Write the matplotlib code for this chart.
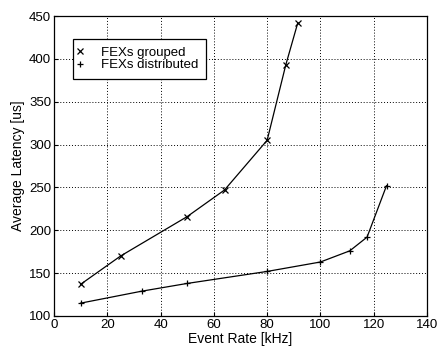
import matplotlib
matplotlib.use("Agg")
import matplotlib.pyplot as plt

# data
grouped_rate = [10, 25, 50, 64, 80, 87, 91.5]
grouped_latency = [137, 170, 216, 247, 305, 393, 442]

distributed_rate = [10, 33, 50, 80, 100, 111, 117.5, 124.8]
distributed_latency = [115, 129, 138, 152, 163, 176, 192, 252]

plt.rcParams['font.family'] = ['Liberation Sans', 'DejaVu Sans']

fig = plt.figure(figsize=(4.39, 3.46), dpi=100)
ax = fig.add_axes([54 / 439, 1 - 316 / 346, (427 - 54) / 439, (316 - 16) / 346])

ax.plot(grouped_rate, grouped_latency, color='k', lw=0.9, marker='x',
        ms=5, mew=0.9, label='FEXs grouped')
ax.plot(distributed_rate, distributed_latency, color='k', lw=0.9, marker='+',
        ms=5, mew=0.9, label='FEXs distributed')

ax.set_xlim(0, 140)
ax.set_ylim(100, 450)
ax.set_xticks(range(0, 141, 20))
ax.set_yticks(range(100, 451, 50))
ax.grid(True, color='k', linestyle=(0, (1, 2)), linewidth=0.7)
ax.tick_params(direction='in', labelsize=9.5, length=3, pad=2)
for s in ax.spines.values():
    s.set_linewidth(0.9)

ax.set_xlabel('Event Rate [kHz]', fontsize=10, labelpad=1)
ax.set_ylabel('Average Latency [us]', fontsize=10, labelpad=3)

leg = ax.legend(loc='upper left', bbox_to_anchor=(0.05, 0.923), fontsize=9.5,
                handlelength=0, handletextpad=1.6, frameon=True, fancybox=False,
                edgecolor='k', borderpad=0.55, labelspacing=0.05,
                borderaxespad=0, framealpha=1)
leg.get_frame().set_linewidth(0.9)
for h in leg.legend_handles:
    h.set_linestyle('')

fig.savefig('out.png', dpi=100)
